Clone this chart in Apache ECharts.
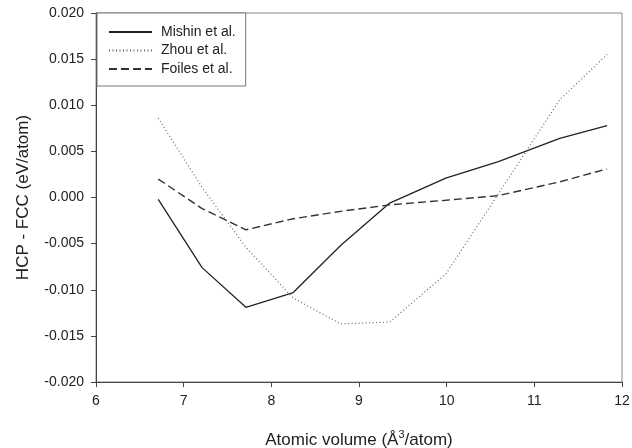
<!DOCTYPE html>
<html>
<head>
<meta charset="utf-8">
<script src="https://cdn.jsdelivr.net/npm/echarts@6/dist/echarts.min.js"></script>
<style>html,body{margin:0;padding:0;background:#fff}#c{width:632px;height:448px}</style>
</head>
<body>
<div id="c"></div>
<script>
const volumes = [6.71, 7.21, 7.71, 8.25, 8.79, 9.35, 9.99, 10.59, 11.29, 11.83];
const mishin = [-0.0002, -0.0076, -0.0119, -0.0103, -0.0052, -0.0006, 0.0021, 0.0039, 0.0064, 0.0078];
const zhou   = [0.0086, 0.0011, -0.0054, -0.0109, -0.0137, -0.0135, -0.0083, 0.0004, 0.0106, 0.0155];
const foiles = [0.0020, -0.0012, -0.0035, -0.0023, -0.0015, -0.0008, -0.0003, 0.0002, 0.0017, 0.0031];
const seriesNames = ['Mishin et al.', 'Zhou et al.', 'Foiles et al.'];
const xTicks = [6, 7, 8, 9, 10, 11, 12];
const yTicks = [-0.020, -0.015, -0.010, -0.005, 0.000, 0.005, 0.010, 0.015, 0.020];

const pairs = arr => volumes.map((v, i) => [v, arr[i]]);
const font = 'Liberation Sans, Arial, sans-serif';

const chart = echarts.init(document.getElementById('c'), null, {renderer: 'canvas'});
chart.setOption({
  animation: false,
  backgroundColor: '#fff',
  grid: {left: 96, right: 10, top: 13, bottom: 66, show: true, borderColor: '#888', borderWidth: 1,
    containLabel: false, outerBoundsMode: 'none'},
  legend: {
    orient: 'vertical', left: 97, top: 13,
    padding: [12, 10, 10, 11],
    itemWidth: 43, itemHeight: 14, itemGap: 4.5,
    borderColor: '#777', borderWidth: 1, backgroundColor: '#fff',
    itemStyle: {opacity: 0, borderWidth: 0},
    textStyle: {fontFamily: font, fontSize: 14, color: '#222', padding: [0, 0, 0, 4]},
    data: seriesNames
  },
  xAxis: {
    type: 'value', min: xTicks[0], max: xTicks[xTicks.length - 1], interval: 1,
    name: 'Atomic volume (Å{sup|3}/atom)', nameLocation: 'middle', nameGap: 47,
    nameTextStyle: {fontFamily: font, fontSize: 17, color: '#222',
      rich: {sup: {fontFamily: font, fontSize: 11, color: '#222', verticalAlign: 'top', lineHeight: 22}}},
    axisLine: {onZero: false, lineStyle: {color: '#444', width: 1}},
    axisTick: {show: true, length: 5, lineStyle: {color: '#444'}},
    axisLabel: {fontFamily: font, fontSize: 14, color: '#222', margin: 12},
    splitLine: {show: false}
  },
  yAxis: {
    type: 'value', min: yTicks[0], max: yTicks[yTicks.length - 1], interval: 0.005,
    name: 'HCP - FCC (eV/atom)', nameLocation: 'middle', nameGap: 64,
    nameTextStyle: {fontFamily: font, fontSize: 17, color: '#222'},
    axisLine: {onZero: false, lineStyle: {color: '#444', width: 1}},
    axisTick: {show: true, length: 5, lineStyle: {color: '#444'}},
    axisLabel: {fontFamily: font, fontSize: 14, color: '#222', margin: 12,
      formatter: v => v.toFixed(3)},
    splitLine: {show: false}
  },
  series: [
    {name: seriesNames[0], type: 'line', data: pairs(mishin), showSymbol: false, symbol: 'none',
     lineStyle: {color: '#222', width: 1.3, type: 'solid'}, itemStyle: {color: '#222'}},
    {name: seriesNames[1], type: 'line', data: pairs(zhou), showSymbol: false, symbol: 'none',
     lineStyle: {color: '#666', width: 1.2, type: [1, 2.5]}, itemStyle: {color: '#666'}},
    {name: seriesNames[2], type: 'line', data: pairs(foiles), showSymbol: false, symbol: 'none',
     lineStyle: {color: '#333', width: 1.4, type: [8, 4]}, itemStyle: {color: '#333'}}
  ]
});
</script>
</body>
</html>
